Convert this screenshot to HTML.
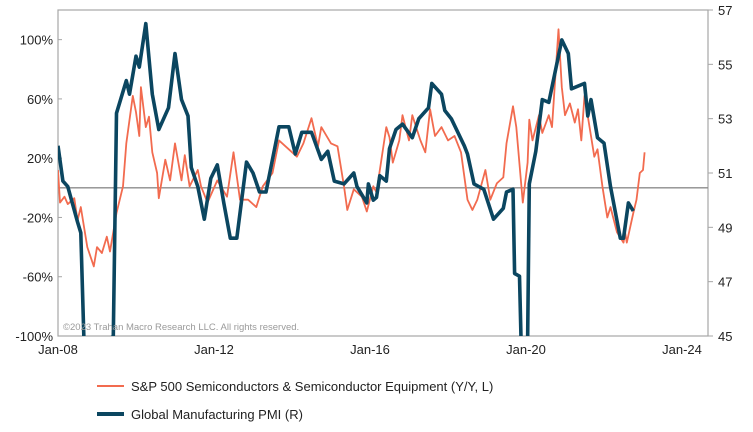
<!DOCTYPE html>
<html><head><meta charset="utf-8"><style>
html,body{margin:0;padding:0;background:#fff;font-family:"Liberation Sans",sans-serif;width:753px;height:432px;overflow:hidden;}
svg{display:block;overflow:hidden;}
svg text{font-family:"Liberation Sans",sans-serif;}
</style></head><body>
<svg width="753" height="432">
<defs><clipPath id="pc"><rect x="58" y="10" width="650" height="326"/></clipPath></defs>
<g id="axes"></g>
<g id="series" clip-path="url(#pc)"></g>
<text x="63" y="330" font-size="9.5" fill="#9a9a9a">©2023 Trahan Macro Research LLC. All rights reserved.</text>
<g>
<line x1="97" y1="386" x2="124" y2="386" stroke="#f26b4f" stroke-width="2"/>
<text x="131" y="391" font-size="13" fill="#222">S&amp;P 500 Semiconductors &amp; Semiconductor Equipment (Y/Y, L)</text>
<line x1="97" y1="414" x2="124" y2="414" stroke="#0b4660" stroke-width="4"/>
<text x="131" y="419" font-size="13" fill="#222">Global Manufacturing PMI (R)</text>
</g>
</svg>
<script>
const leftTicks=[100,60,20,-20,-60,-100];
const rightTicks=[57,55,53,51,49,47,45];
const xTickMonths=[0,48,96,144,192];
const xTickLabels=["Jan-08","Jan-12","Jan-16","Jan-20","Jan-24"];
const pmiMonths=[0,1.5,3,6,7,8,10,11,13,15,17,18,21,22,24,25,27,29,31,34,36,38,40,41,43,45,47,49,51,53,55,58,60,62,64,66,68,71,73,75,78,81,83,85,88,91,92,95,95.5,97,98,99,101,102,104,106,109,111,114,115,118,119,121,125,126,128,131,134,137,138,140,140.5,142,142.5,143,144.5,145,147,149,151,155,157,158,162,163,164,166,168,170,173,174,175.5,177];
const pmiValues=[52.0,50.7,50.5,49.2,48.8,44.5,38.5,34.5,34.5,38,45,53.2,54.4,53.9,55.3,54.9,56.5,53.9,52.6,53.4,55.4,53.7,53.1,51.2,50.5,49.3,50.8,51.3,49.9,48.6,48.6,51.4,51.0,50.3,50.3,51.5,52.7,52.7,51.7,52.5,52.5,51.5,51.8,50.7,50.6,51.0,50.5,49.9,50.6,50.0,50.1,50.9,50.7,51.9,52.6,52.8,52.3,53.0,53.4,54.3,53.9,53.3,53.0,52.0,51.7,50.6,50.4,49.3,49.7,50.3,50.4,47.3,47.2,42,39.5,42,50.6,51.8,53.7,53.6,55.9,55.4,54.1,54.3,53.1,53.7,52.3,52.1,50.5,48.6,48.6,49.9,49.6];
const semiMonths=[0,0.6,2,3,5,6,7,9,11,12,13.5,15,16,18,20,21,23,24,25,25.5,27,28,29,30.5,31,33,34.5,36,38,39,40.5,43,44,46,49,52,54,56,58.5,61,63,66,68,71,73.5,75.5,78,80,81,84,86,88,89,91,93.5,95,97,98,101,102,103,105,106,108,109,111.5,113,114.5,116,118,120,122,124,126,127.5,129,131.5,133,135,137,138,140,141,143,144.5,145,146,148,149,151,152,154,155,156,157.5,159,160,161,162,164,165,166,167.5,169,170,172,174,174.5,175,177,178,179,180,180.5];
const semiValues=[12,-10,-6,-11,-7,-22,-13,-40,-53,-40,-44,-33,-43,-17,1,30,62,51,35,68,41,48,24,10,-7,19,5,30,5,22,1,12,1,-10,5,-6,24,-8,-8,-13,1,10,32,26,21,30,47,28,41,30,28,1,-15,-1,-6,-16,1,-3,41,34,17,32,49,32,49,32,24,53,35,41,32,35,24,-8,-15,-8,12,-8,3,7,30,55,41,-10,17,46,32,49,37,49,41,107,68,49,57,44,53,32,62,35,21,26,1,-20,-13,-30,-37,-30,-37,-17,-8,10,12,24];
const L=58,R=708,T=10,B=336;
const clampY=y=>Math.max(T-6,Math.min(B+6,y));
const xS=m=>L+m*39/12;
const yL=v=>clampY(B-(v+100)*(B-T)/220);
const yR=v=>clampY(B-(v-45)*(B-T)/12);
const NS='http://www.w3.org/2000/svg';
const ax=document.getElementById('axes'),se=document.getElementById('series');
function mk(p,tag,at){const e=document.createElementNS(NS,tag);for(const k in at)e.setAttribute(k,at[k]);p.appendChild(e);return e;}
const frame=mk(ax,'rect',{x:L,y:T,width:R-L,height:B-T,fill:'none',stroke:'#a6a6a6','stroke-width':1.2});


leftTicks.forEach(v=>{
 const t=mk(ax,'text',{x:L-5,y:yL(v)+5,'font-size':13,'text-anchor':'end',fill:'#222'});t.textContent=v+'%';
 
 
 const l=mk(ax,'line',{x1:L,x2:L+4,y1:yL(v),y2:yL(v),stroke:'#a6a6a6'});
 
 
});
rightTicks.forEach(v=>{
 const t=mk(ax,'text',{x:R+10,y:yR(v)+5,'font-size':13,fill:'#222'});t.textContent=v;
 
 
 const l=mk(ax,'line',{x1:R,x2:R+5,y1:yR(v),y2:yR(v),stroke:'#a6a6a6'});
 
 
});
xTickMonths.forEach((m,i)=>{
 const t=mk(ax,'text',{x:xS(m),y:B+18,'font-size':13,'text-anchor':'middle',fill:'#222'});t.textContent=xTickLabels[i];
 
 
});
const zl=mk(ax,'line',{x1:L,x2:R,y1:yL(0),y2:yL(0),stroke:'#8c8c8c','stroke-width':1.3});


const sp=mk(se,'polyline',{points:semiMonths.map((m,i)=>xS(m).toFixed(1)+','+yL(semiValues[i]).toFixed(1)).join(' '),fill:'none',stroke:'#f26b4f','stroke-width':1.8,'stroke-linejoin':'round'});


const pp=mk(se,'polyline',{points:pmiMonths.map((m,i)=>xS(m).toFixed(1)+','+yR(pmiValues[i]).toFixed(1)).join(' '),fill:'none',stroke:'#0b4660','stroke-width':3.6,'stroke-linejoin':'round'});


</script>
</body></html>
